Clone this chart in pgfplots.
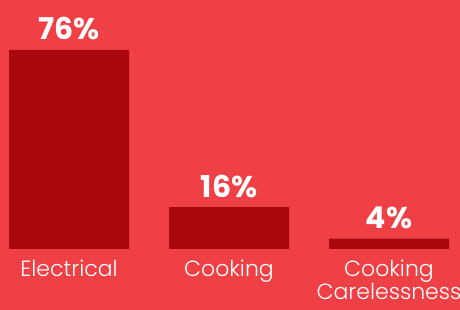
\documentclass[border=0pt]{standalone}
\usepackage{pgfplots}
\pgfplotsset{compat=1.18}
\usepackage{fontspec}
\setmainfont{Poppins}
\newfontfamily\lightfont{Poppins Light}
\definecolor{bg}{HTML}{EF4046}
\definecolor{barc}{HTML}{A8070D}
\pagecolor{bg}
\begin{document}
\begin{tikzpicture}
\begin{axis}[
  scale only axis, width=460pt, height=249pt,
  xmin=-0.43125, xmax=2.44375, ymin=0, ymax=95.04,
  axis line style={draw=none}, tick style={draw=none},
  ytick=\empty, xtick={0,1,2},
  xticklabels={Electrical,Cooking,{Cooking\\Carelessness}},
  xticklabel style={text=white, font=\lightfont\fontsize{22}{23}\selectfont, align=center, yshift=-3pt},
  /pgf/number format/assume math mode=true,
  ybar, bar width=120pt,
  nodes near coords={\pgfmathprintnumber{\pgfplotspointmeta}\%},
  nodes near coords style={text=white, font=\bfseries\fontsize{30}{30}\selectfont, anchor=base, yshift=10pt},
  clip=false,
]
\addplot[fill=barc, draw=none] coordinates {(0,76) (1,16) (2,4)};
\coordinate (bl) at (axis cs:-0.43125,-23.28);
\coordinate (tr) at (axis cs:2.44375,95.04);
\end{axis}
\pgfresetboundingbox
\useasboundingbox (bl) rectangle (tr);
\end{tikzpicture}
\end{document}
